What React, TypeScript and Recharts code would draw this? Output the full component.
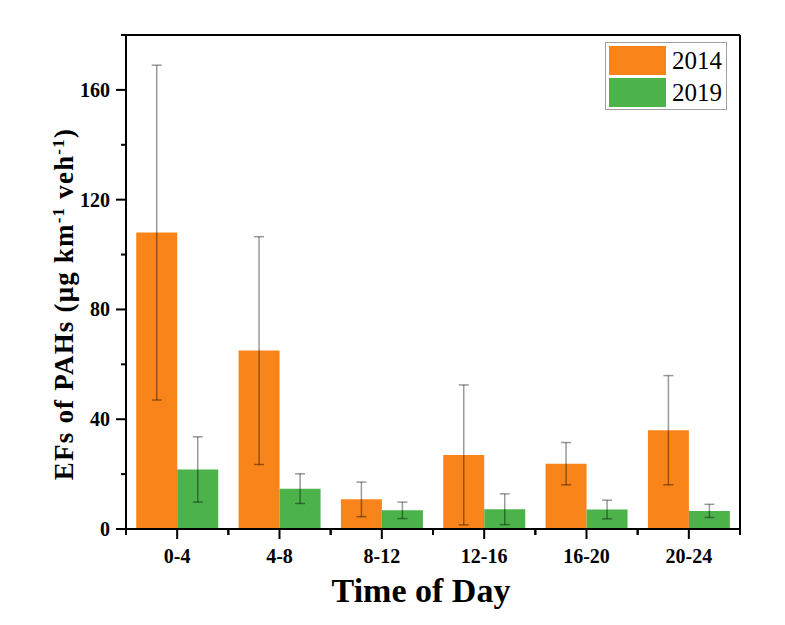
import React from "react";
import { BarChart, Bar, XAxis, YAxis, ErrorBar, Legend, CartesianGrid } from "recharts";

const periods = ["0-4", "4-8", "8-12", "12-16", "16-20", "20-24"];
const ef2014 = [108, 65, 10.8, 27, 23.8, 36];
const sd2014 = [61, 41.5, 6.3, 25.5, 7.7, 19.9];
const ef2019 = [21.7, 14.7, 6.8, 7.2, 7.1, 6.6];
const sd2019 = [11.9, 5.4, 3, 5.6, 3.4, 2.4];
const yTicks = [0, 20, 40, 60, 80, 100, 120, 140, 160, 180];
const yLabeled = [0, 40, 80, 120, 160];

const data = periods.map((p, i) => ({
  period: p,
  y2014: ef2014[i],
  e2014: sd2014[i],
  y2019: ef2019[i],
  e2019: sd2019[i],
}));

const W = 785;
const H = 625;
const M = { top: 35, right: 45, left: 0, bottom: 0 };
const Y_W = 126;
const X_H = 96;
const BAND = (W - M.right - Y_W) / periods.length;
const SERIF = "'Liberation Serif', 'Times New Roman', serif";
const ORANGE = "#F9851A";
const GREEN = "#4BB34A";

const YTick = ({ x, y, payload }: any) => {
  const major = yLabeled.includes(payload.value);
  return (
    <g>
      <line x1={x - (major ? 10 : 5)} x2={x} y1={y} y2={y} stroke="#000" strokeWidth={2} />
      {major && (
        <text x={x - 16} y={y} dy="0.35em" textAnchor="end" fontFamily={SERIF} fontWeight="bold" fontSize={20} fill="#000">
          {payload.value}
        </text>
      )}
    </g>
  );
};

const XTick = ({ x, y, payload }: any) => (
  <g>
    <line x1={x} x2={x} y1={y} y2={y + 10} stroke="#000" strokeWidth={2} />
    <line x1={x - BAND / 2} x2={x - BAND / 2} y1={y} y2={y + 6} stroke="#000" strokeWidth={2} />
    <line x1={x + BAND / 2} x2={x + BAND / 2} y1={y} y2={y + 6} stroke="#000" strokeWidth={2} />
    <text x={x} y={y + 33.5} textAnchor="middle" fontFamily={SERIF} fontWeight="bold" fontSize={20} fill="#000">
      {payload.value}
    </text>
  </g>
);

const YLabel = ({ viewBox }: any) => {
  const cx = viewBox.x + 73;
  const cy = viewBox.y + viewBox.height / 2 + 22;
  return (
    <text
      x={cx}
      y={cy}
      transform={`rotate(-90, ${cx}, ${cy})`}
      textAnchor="middle"
      fontFamily={SERIF}
      fontWeight="bold"
      fontSize={27}
      letterSpacing={1.2}
      fill="#000"
    >
      EFs of PAHs (μg km
      <tspan baselineShift="super" fontSize={17}>-1</tspan>
      <tspan> veh</tspan>
      <tspan baselineShift="super" fontSize={17}>-1</tspan>
      <tspan>)</tspan>
    </text>
  );
};

const XLabel = ({ viewBox }: any) => (
  <text
    x={viewBox.x + viewBox.width / 2 - 12}
    y={viewBox.y + 73}
    textAnchor="middle"
    fontFamily={SERIF}
    fontWeight="bold"
    fontSize={34}
    fill="#000"
  >
    Time of Day
  </text>
);

const LegendBox = ({ payload }: any) => (
  <div style={{ border: "1px solid #a0a0a0", padding: "3px 4px 2px 3px", background: "#fff", display: "inline-block" }}>
    {(payload || []).map((p: any, i: number) => (
      <div key={p.value} style={{ display: "flex", alignItems: "center", height: 29, marginTop: i ? 3 : 0 }}>
        <span style={{ width: 57, height: 29, background: p.color, display: "inline-block" }} />
        <span style={{ fontFamily: SERIF, fontSize: 25, marginLeft: 6, lineHeight: "29px", color: "#000" }}>{p.value}</span>
      </div>
    ))}
  </div>
);

export default function App() {
  return (
    <div style={{ position: "absolute", left: 0, top: 0, width: W, height: H, background: "#fff" }}>
      <BarChart width={W} height={H} data={data} margin={M} barCategoryGap="10%" barGap={0}>
        {/* top and right frame lines */}
        <CartesianGrid
          stroke="#000"
          strokeWidth={2}
          horizontalCoordinatesGenerator={({ offset }: any) => [offset.top]}
          verticalCoordinatesGenerator={({ offset }: any) => [offset.left + offset.width]}
        />
        <XAxis
          dataKey="period"
          height={X_H}
          interval={0}
          tickSize={0}
          tickMargin={0}
          tickLine={false}
          tick={<XTick />}
          axisLine={{ stroke: "#000", strokeWidth: 2 }}
          label={<XLabel />}
        />
        <YAxis
          type="number"
          domain={[0, 180]}
          ticks={yTicks}
          interval={0}
          width={Y_W}
          tickSize={0}
          tickMargin={0}
          tickLine={false}
          tick={<YTick />}
          axisLine={{ stroke: "#000", strokeWidth: 2 }}
          label={<YLabel />}
        />
        <Legend
          layout="vertical"
          align="center"
          verticalAlign="middle"
          content={<LegendBox />}
          wrapperStyle={{ left: 605, top: 42, width: "auto", height: "auto" }}
        />
        <Bar dataKey="y2014" name="2014" fill={ORANGE} isAnimationActive={false}>
          <ErrorBar dataKey="e2014" width={5} stroke="#000" strokeOpacity={0.4} strokeWidth={1.5} />
        </Bar>
        <Bar dataKey="y2019" name="2019" fill={GREEN} isAnimationActive={false}>
          <ErrorBar dataKey="e2019" width={5} stroke="#000" strokeOpacity={0.4} strokeWidth={1.5} />
        </Bar>
      </BarChart>
    </div>
  );
}
